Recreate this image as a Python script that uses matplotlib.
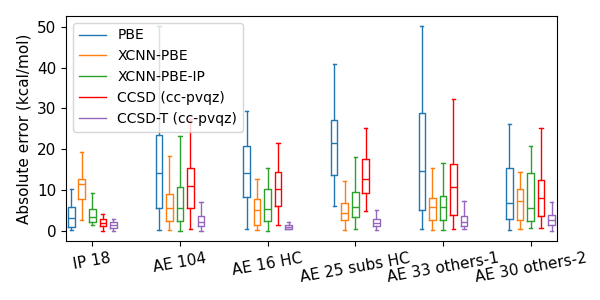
import matplotlib
matplotlib.use('Agg')
import matplotlib.pyplot as plt
from matplotlib.lines import Line2D

# Box statistics (kcal/mol)
categories = ['IP 18', 'AE 104', 'AE 16 HC', 'AE 25 subs HC', 'AE 33 others-1', 'AE 30 others-2']
methods = ['PBE', 'XCNN-PBE', 'XCNN-PBE-IP', 'CCSD (cc-pvqz)', 'CCSD-T (cc-pvqz)']
colors = ['tab:blue', 'tab:orange', 'tab:green', 'red', 'tab:purple']

# each entry: [whislo, q1, med, q3, whishi] per category
pbe = [[0.2, 0.9, 3.1, 5.7, 10.3], [0.2, 5.5, 14.1, 23.6, 50.2], [0.4, 8.2, 14.1, 20.7, 29.3],
       [6.0, 13.7, 21.4, 27.2, 41.0], [0.4, 5.0, 14.6, 28.9, 50.2], [0.2, 2.8, 6.8, 15.3, 26.3]]
xcnn_pbe = [[2.6, 7.7, 11.5, 12.8, 19.4], [0.2, 2.4, 5.6, 9.0, 18.3], [0.2, 1.5, 5.0, 7.7, 12.8],
            [0.2, 2.6, 4.4, 6.8, 12.1], [0.2, 2.6, 5.8, 8.0, 15.3], [0.4, 2.6, 7.2, 10.2, 14.3]]
xcnn_pbe_ip = [[1.5, 2.1, 3.3, 5.2, 9.3], [0.0, 2.4, 5.6, 10.6, 23.2], [0.0, 2.4, 5.3, 10.2, 15.3],
               [0.5, 3.3, 5.8, 9.4, 18.0], [0.2, 2.6, 5.8, 8.5, 16.5], [0.7, 2.4, 5.5, 14.1, 20.9]]
ccsd = [[0.0, 1.1, 1.8, 2.9, 4.1], [0.4, 5.5, 11.0, 15.5, 27.5], [1.5, 6.0, 10.2, 14.3, 21.5],
        [4.8, 9.2, 12.8, 17.7, 25.3], [0.4, 3.8, 10.7, 16.4, 32.4], [0.7, 3.6, 8.0, 12.4, 25.3]]
ccsd_t = [[0.0, 0.7, 1.5, 2.1, 2.8], [0.0, 1.2, 2.2, 3.5, 7.0], [0.3, 0.4, 1.0, 1.5, 2.1],
          [0.2, 1.1, 1.9, 2.8, 5.0], [0.4, 1.1, 2.1, 3.7, 7.2], [0.0, 1.4, 2.6, 3.8, 7.0]]
all_stats = [pbe, xcnn_pbe, xcnn_pbe_ip, ccsd, ccsd_t]

fig, ax = plt.subplots(figsize=(6, 3), dpi=100)
fig.subplots_adjust(left=0.11, right=0.928, top=0.947, bottom=0.197)

step = 0.12
for i, (stats, col) in enumerate(zip(all_stats, colors)):
    bxp_stats = []
    for lo, q1, med, q3, hi in stats:
        bxp_stats.append({'whislo': lo, 'q1': q1, 'med': med, 'q3': q3, 'whishi': hi, 'fliers': []})
    pos = [k + (i - 2) * step for k in range(len(categories))]
    style = dict(color=col, linewidth=1)
    ax.bxp(bxp_stats, positions=pos, widths=0.075, showfliers=False,
           boxprops=style, whiskerprops=style, capprops=style, medianprops=style,
           manage_ticks=False)

ax.set_xticks(range(len(categories)))
ax.set_xticklabels(categories, rotation=10, fontsize=11)
ax.tick_params(axis='y', labelsize=11)
ax.set_xlim(-0.3, 5.3)
ax.set_ylabel('Absolute error (kcal/mol)', fontsize=11)

handles = [Line2D([], [], color=c, linewidth=1) for c in colors]
ax.legend(handles, methods, loc='upper left', fontsize=10)

fig.savefig('out.png')
